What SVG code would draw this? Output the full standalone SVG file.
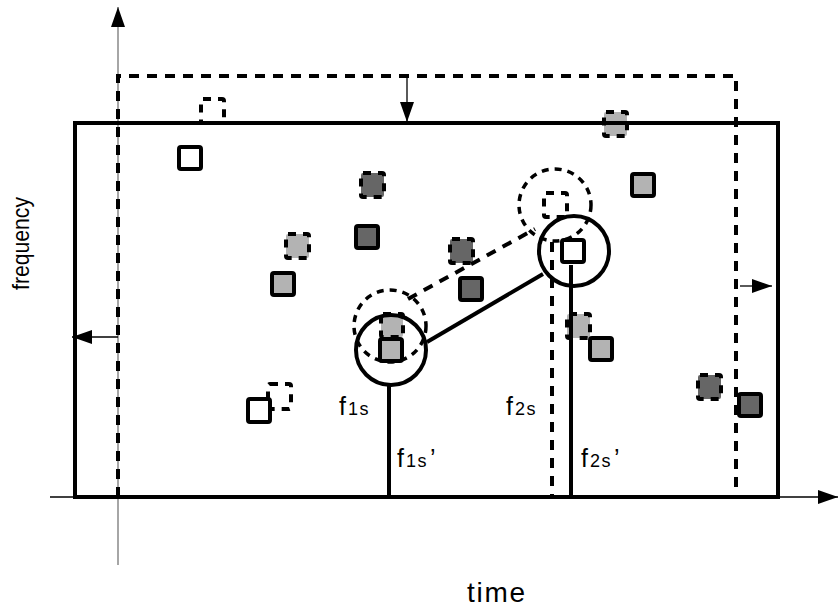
<svg xmlns="http://www.w3.org/2000/svg" width="838" height="613" viewBox="0 0 838 613">
<style>
.sq{stroke:#000;stroke-width:4;}
.dsq{stroke:#000;stroke-width:4;stroke-dasharray:8 7;}
.w{fill:#fff;}
.lg{fill:#b3b3b3;}
.dg{fill:#666;}
.none{fill:none;}
.thick{stroke:#000;stroke-width:4;fill:none;}
.dash{stroke:#000;stroke-width:4;fill:none;stroke-dasharray:10 8;}
.dcirc{stroke:#000;stroke-width:3.5;fill:none;stroke-dasharray:7 6;}
.thin{stroke:#000;stroke-width:1.3;fill:none;}
.lab{font-family:"Liberation Sans",Arial,sans-serif;fill:#000;font-size:25px;}
.sub{font-size:18px;letter-spacing:1.5px;}
</style>
<defs>
<marker id="ah" viewBox="0 0 20 14" refX="20" refY="7" markerWidth="20" markerHeight="14" markerUnits="userSpaceOnUse" orient="auto">
<path d="M0,0 L20,7 L0,14 Z" fill="#000"/>
</marker>
</defs>
<rect width="838" height="613" fill="#fff"/>

<g id="axes">
<line x1="118" y1="565" x2="118" y2="7" stroke="#888" stroke-width="1.5" marker-end="url(#ah)"/>
<line x1="50" y1="497" x2="838" y2="497" stroke="#000" stroke-width="1.3" marker-end="url(#ah)"/>
</g>

<g id="dashed-squares">
<rect id="ds1" class="dsq none" x="201" y="99" width="23" height="24" rx="2"/>
<rect id="ds2" class="dsq lg" x="286" y="234" width="23" height="24" rx="2"/>
<rect id="ds3" class="dsq dg" x="361" y="173" width="23" height="24" rx="2"/>
<rect id="ds4" class="dsq dg" x="450" y="239" width="23" height="24" rx="2"/>
<rect id="ds5" class="dsq lg" x="381" y="314" width="22" height="23" rx="2"/>
<rect id="ds6" class="dsq none" x="544" y="193" width="23" height="24" rx="2"/>
<rect id="ds7" class="dsq lg" x="567" y="314" width="23" height="24" rx="2"/>
<rect id="ds8" class="dsq lg" x="604" y="112" width="23" height="24" rx="2"/>
<rect id="ds9" class="dsq dg" x="698" y="375" width="23" height="24" rx="2"/>
<rect id="ds10" class="dsq none" x="268" y="384" width="23" height="25" rx="2"/>
</g>

<g id="frames">
<rect id="solid-frame" class="thick" x="75" y="123" width="703" height="374"/>
<path id="dashed-frame" class="dash" d="M118,497 L118,76 L736,76 L736,497"/>
</g>

<g id="solid-squares">
<rect id="s1" class="sq w" x="179" y="147" width="22" height="22" rx="2"/>
<rect id="s2" class="sq lg" x="272" y="273" width="22" height="22" rx="2"/>
<rect id="s3" class="sq dg" x="356" y="226" width="22" height="22" rx="2"/>
<rect id="s4" class="sq dg" x="460" y="278" width="22" height="22" rx="2"/>
<rect id="s5" class="sq lg" x="380" y="339" width="22" height="22" rx="2"/>
<rect id="s6" class="sq w" x="562" y="240" width="22" height="22" rx="2"/>
<rect id="s7" class="sq lg" x="590" y="338" width="22" height="22" rx="2"/>
<rect id="s8" class="sq lg" x="632" y="174" width="22" height="22" rx="2"/>
<rect id="s9" class="sq dg" x="739" y="394" width="22" height="22" rx="2"/>
<rect id="s10" class="sq w" x="248" y="399" width="22" height="23" rx="2"/>
</g>

<g id="circles">
<circle id="c1" cx="391" cy="350" r="35" class="thick"/>
<circle id="c2" cx="574" cy="251" r="35" class="thick"/>
<circle id="dc1" cx="390" cy="326" r="36" class="dcirc"/>
<circle id="dc2" cx="555" cy="205" r="36" class="dcirc"/>
</g>

<g id="connectors">
<line x1="427" y1="342" x2="543" y2="274" class="thick"/>
<line x1="408" y1="299" x2="535" y2="229" class="dash" stroke-dasharray="9 7"/>
<line x1="389" y1="385" x2="389" y2="497" class="thick"/>
<line x1="571" y1="265" x2="571" y2="497" class="thick"/>
<line x1="552" y1="242" x2="552" y2="497" class="dash"/>
<line x1="407" y1="78" x2="407" y2="122" class="thin" marker-end="url(#ah)"/>
<line x1="118" y1="337" x2="72" y2="337" class="thin" marker-end="url(#ah)"/>
<line x1="740" y1="286" x2="772" y2="286" class="thin" marker-end="url(#ah)"/>
</g>

<g id="labels">
<text class="lab" x="339" y="415">f<tspan class="sub" dx="2">1s</tspan></text>
<text class="lab" x="506" y="415">f<tspan class="sub" dx="2">2s</tspan></text>
<text class="lab" x="397" y="467">f<tspan class="sub" dx="2">1s</tspan><tspan dx="2">’</tspan></text>
<text class="lab" x="581" y="467">f<tspan class="sub" dx="2">2s</tspan><tspan dx="2">’</tspan></text>
<text class="lab" x="467" y="602" font-size="28" style="font-size:28px" textLength="58" lengthAdjust="spacing">time</text>
<text x="29" y="290" transform="rotate(-90 29 290)" font-family="Liberation Sans, Arial, sans-serif" font-size="24" textLength="93" lengthAdjust="spacingAndGlyphs">frequency</text>
</g>
</svg>
